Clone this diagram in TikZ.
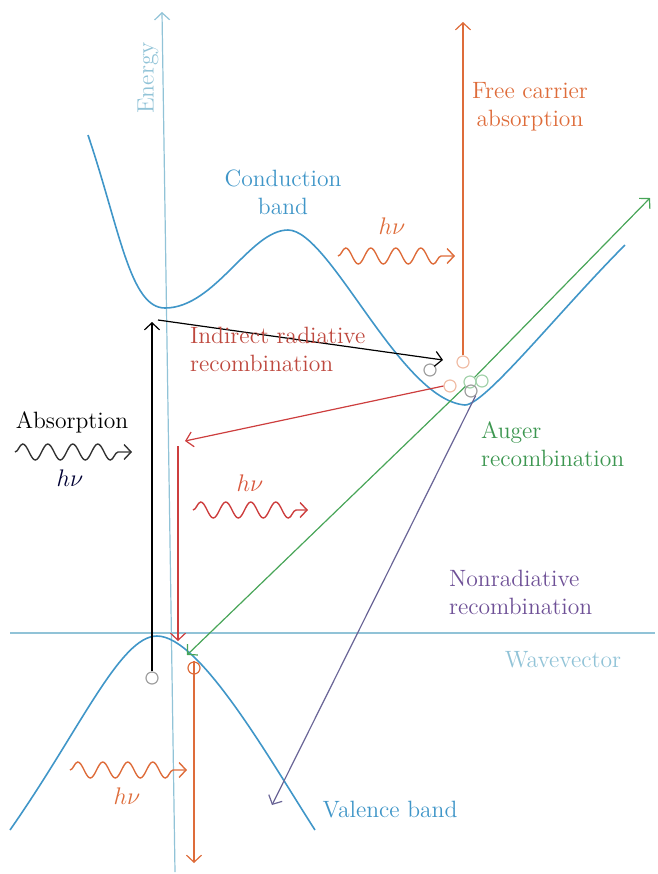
\documentclass[tikz,border=0pt]{standalone}
\usepackage{xcolor}
\usepackage{tikz}
\usetikzlibrary{arrows.meta, decorations.pathmorphing}

\definecolor{bandblue}{RGB}{64,150,200}
\definecolor{axisblue}{RGB}{145,195,215}
\definecolor{photonorange}{RGB}{222,108,58}
\definecolor{radred}{RGB}{205,62,62}
\definecolor{augergreen}{RGB}{72,165,88}
\definecolor{nonradpurple}{RGB}{105,100,150}
\definecolor{holegray}{RGB}{160,160,160}
\definecolor{textred}{RGB}{190,72,62}
\definecolor{textgreen}{RGB}{60,150,80}
\definecolor{textpurple}{RGB}{110,80,150}

\begin{document}
\begin{tikzpicture}[x=0.5pt, y=-0.5pt,
    band_line/.style={draw=bandblue, line width=0.8pt},
    axis_line/.style={draw=axisblue, line width=0.6pt},
    tr_arrow/.style={line width=0.6pt, -{Straight Barb[length=3.5pt, width=7.5pt]}},
    carrier/.style={circle, draw, line width=0.6pt, minimum size=6pt, inner sep=0pt},
    photon/.style={line width=0.7pt, decorate, decoration={snake, segment length=12.5pt, amplitude=4pt, post length=5pt}, -{Straight Barb[length=3.5pt, width=7.5pt]}},
    lbl/.style={font=\fontsize{11.8}{14}\selectfont, align=center}
]
    \useasboundingbox (0,0) rectangle (658,874);

    % Axes
    \coordinate (e_bot) at (175,872);
    \coordinate (e_top) at (162,12);
    \draw [axis_line, -{Straight Barb[length=3.5pt, width=7.5pt]}] (e_bot) -- (e_top);
    \node (energy_label) [lbl, text=axisblue, rotate=90] at (148,78) {Energy};
    \coordinate (k_left) at (10,633);
    \coordinate (k_right) at (655,633);
    \draw [axis_line] (k_left) -- (k_right);
    \node (k_label) [lbl, text=axisblue] at (563,660) {Wavevector};

    % Bands
    \draw [band_line] (88,135) .. controls (120,230) and (130,308) .. (165,308)
        .. controls (215,308) and (250,230) .. (288,230)
        .. controls (330,230) and (400,400) .. (465,405)
        .. controls (485,405) and (560,310) .. (625,245);
    \draw [band_line] (10,830) .. controls (80,730) and (120,636) .. (157,636)
        .. controls (200,636) and (270,760) .. (315,830);
    \node (cb_label) [lbl, text=bandblue] at (283,192) {Conduction\\band};
    \node (vb_label) [lbl, text=bandblue] at (390,810) {Valence band};

    % Carriers
    \node (c_a) [carrier, draw=holegray] at (430,370) {};
    \node (c_b) [carrier, draw=photonorange!45] at (463,362) {};
    \node (c_c) [carrier, draw=photonorange!45] at (450,386) {};
    \node (c_d) [carrier, draw=augergreen!50] at (470,382) {};
    \node (c_e) [carrier, draw=augergreen!50] at (482,381) {};
    \node (c_f) [carrier, draw=holegray] at (471,391) {};
    \node (c_g) [carrier, draw=holegray] at (152,678) {};
    \node (c_h) [carrier, draw=photonorange] at (194,668) {};

    % Absorption
    \coordinate (abs_top) at (152,322);
    \draw [tr_arrow, draw=black] (c_g.north) -- (abs_top);
    \coordinate (abs_start) at (158,320);
    \coordinate (abs_end) at (443,360);
    \draw [tr_arrow, draw=black] (abs_start) -- (abs_end);
    \node (abs_label) [lbl] at (72,422) {Absorption};
    \coordinate (abs_w1) at (15,452);
    \coordinate (abs_w2) at (132,452);
    \draw [photon, draw=black!80] (abs_w1) -- (abs_w2);
    \node (abs_hv) [lbl, text=black!80!blue] at (70,478) {$h\nu$};

    % Free carrier absorption
    \coordinate (fca_top) at (463,22);
    \draw [tr_arrow, draw=photonorange] (c_b.north) -- (fca_top);
    \node (fca_label) [lbl, text=photonorange] at (530,107) {Free carrier\\absorption};
    \coordinate (fca_w1) at (338,256);
    \coordinate (fca_w2) at (455,256);
    \draw [photon, draw=photonorange] (fca_w1) -- (fca_w2);
    \node (fca_hv) [lbl, text=photonorange] at (392,226) {$h\nu$};

    % Indirect radiative recombination
    \coordinate (rad_mid) at (185,441);
    \draw [tr_arrow, draw=radred] (c_c.west) -- (rad_mid);
    \coordinate (rad_top) at (178,446);
    \coordinate (rad_bot) at (178,641);
    \draw [tr_arrow, draw=radred] (rad_top) -- (rad_bot);
    \node (rad_label) [lbl, text=textred, anchor=west, align=left] at (183,349) {Indirect radiative\\recombination};
    \coordinate (rad_w1) at (193,510);
    \coordinate (rad_w2) at (308,510);
    \draw [photon, draw=radred] (rad_w1) -- (rad_w2);
    \node (rad_hv) [lbl, text=photonorange!80!purple] at (250,483) {$h\nu$};

    % Auger recombination
    \coordinate (aug_top) at (650,198);
    \coordinate (aug_bot) at (187,655);
    \draw [tr_arrow, draw=augergreen] (c_d) -- (aug_top);
    \draw [tr_arrow, draw=augergreen] (c_d) -- (aug_bot);
    \node (aug_label) [lbl, text=textgreen, anchor=west, align=left] at (474,444) {Auger\\recombination};

    % Nonradiative recombination
    \coordinate (nr_bot) at (272,805);
    \draw [tr_arrow, draw=nonradpurple] (c_f.south east) -- (nr_bot);
    \node (nr_label) [lbl, text=textpurple, anchor=west, align=left] at (442,592) {Nonradiative\\recombination};

    % Hole emission
    \coordinate (h_bot) at (194,863);
    \draw [tr_arrow, draw=photonorange] (c_h.north) -- (h_bot);
    \coordinate (vb_w1) at (70,770);
    \coordinate (vb_w2) at (187,770);
    \draw [photon, draw=photonorange] (vb_w1) -- (vb_w2);
    \node (vb_hv) [lbl, text=photonorange] at (127,796) {$h\nu$};
\end{tikzpicture}
\end{document}
